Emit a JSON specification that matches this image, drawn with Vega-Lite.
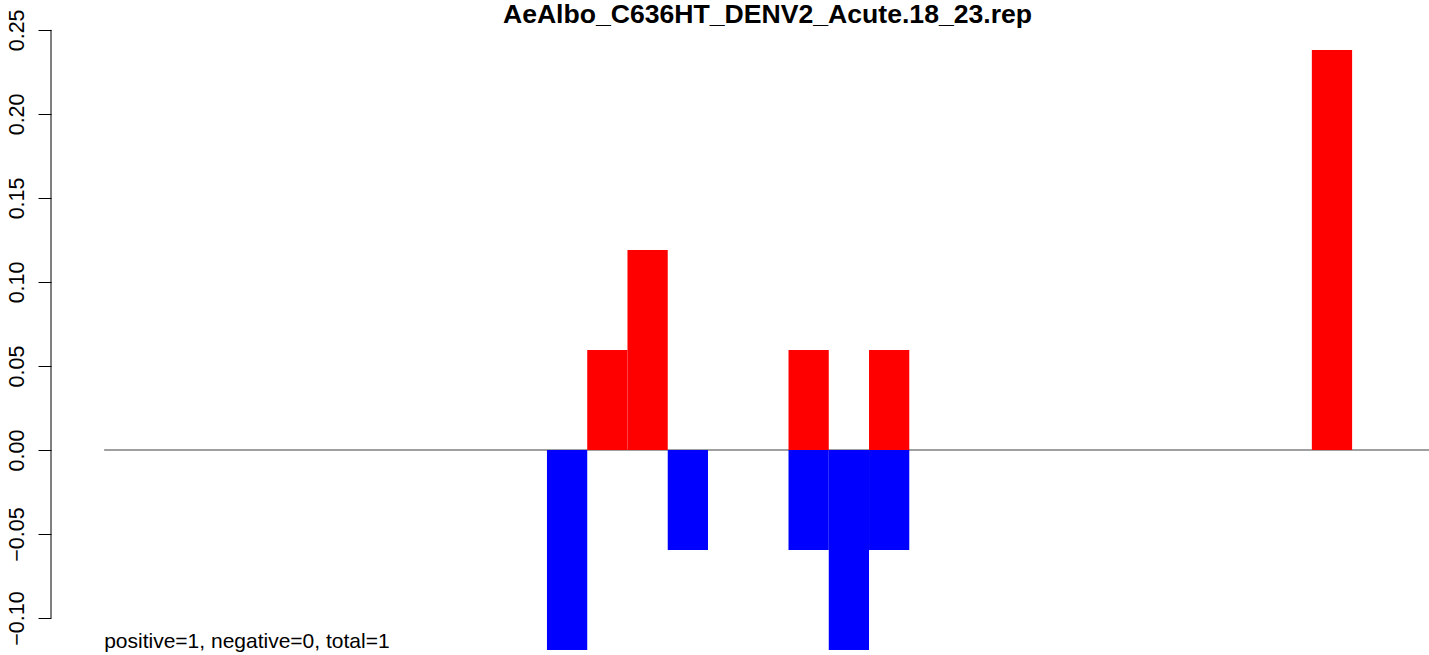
{
  "$schema": "https://vega.github.io/schema/vega-lite/v6.json",
  "width": 1378,
  "height": 629,
  "autosize": {"type": "none"},
  "padding": {"left": 51, "top": 26, "right": 0, "bottom": 0},
  "background": "white",
  "config": {"view": {"stroke": null}},
  "title": {
    "text": "AeAlbo_C636HT_DENV2_Acute.18_23.rep",
    "font": "Liberation Sans",
    "fontSize": 26.6,
    "fontWeight": "bold",
    "color": "black",
    "anchor": "middle",
    "dx": 27.5,
    "offset": -41,
    "baseline": "alphabetic"
  },
  "datasets": {
    "bars": [
      {"start": 11, "end": 12, "value": -0.119, "sign": "negative"},
      {"start": 12, "end": 13, "value": 0.0595, "sign": "positive"},
      {"start": 13, "end": 14, "value": 0.119, "sign": "positive"},
      {"start": 14, "end": 15, "value": -0.0595, "sign": "negative"},
      {"start": 17, "end": 18, "value": 0.0595, "sign": "positive"},
      {"start": 17, "end": 18, "value": -0.0595, "sign": "negative"},
      {"start": 18, "end": 19, "value": -0.119, "sign": "negative"},
      {"start": 19, "end": 20, "value": 0.0595, "sign": "positive"},
      {"start": 19, "end": 20, "value": -0.0595, "sign": "negative"},
      {"start": 30, "end": 31, "value": 0.238, "sign": "positive"}
    ],
    "note": [
      {"label": "positive=1, negative=0, total=1"}
    ]
  },
  "layer": [
    {
      "data": {"name": "note"},
      "mark": {"type": "rule", "color": "#A0A0A0", "strokeWidth": 2},
      "encoding": {
        "x": {"datum": 0, "type": "quantitative", "scale": {"domain": [-1.32, 32.91], "nice": false, "zero": false}, "axis": null},
        "x2": {"datum": 33},
        "y": {"datum": 0, "type": "quantitative", "scale": {"domain": [-0.122, 0.2523], "nice": false, "zero": false}}
      }
    },
    {
      "data": {"name": "bars"},
      "mark": {"type": "rect", "strokeWidth": 0},
      "encoding": {
        "x": {"field": "start", "type": "quantitative", "scale": {"domain": [-1.32, 32.91], "nice": false, "zero": false}, "axis": null},
        "x2": {"field": "end"},
        "y": {
          "field": "value",
          "type": "quantitative",
          "scale": {"domain": [-0.122, 0.2523], "nice": false, "zero": false},
          "axis": {
            "title": null,
            "domain": false,
            "grid": false,
            "values": [-0.1, -0.05, 0, 0.05, 0.1, 0.15, 0.2, 0.25],
            "format": ".2f",
            "tickSize": 13,
            "tickColor": "black",
            "tickWidth": 1,
            "labelAngle": 270,
            "labelAlign": "center",
            "labelBaseline": "bottom",
            "labelPadding": 10,
            "labelFont": "Liberation Sans",
            "labelFontSize": 21.5,
            "labelColor": "black",
            "labelFlush": false,
            "labelOverlap": false
          }
        },
        "y2": {"datum": 0},
        "color": {
          "field": "sign",
          "type": "nominal",
          "scale": {"domain": ["positive", "negative"], "range": ["#FF0000", "#0000FF"]},
          "legend": null
        }
      }
    },
    {
      "data": {"name": "note"},
      "mark": {"type": "rule", "color": "black", "strokeWidth": 1},
      "encoding": {
        "x": {"datum": -1.32, "type": "quantitative"},
        "y": {"datum": -0.1, "type": "quantitative"},
        "y2": {"datum": 0.25}
      }
    },
    {
      "data": {"name": "note"},
      "mark": {"type": "text", "align": "left", "baseline": "alphabetic", "font": "Liberation Sans", "fontSize": 21, "color": "black"},
      "encoding": {
        "x": {"datum": 0, "type": "quantitative"},
        "y": {"datum": -0.118, "type": "quantitative"},
        "text": {"field": "label"}
      }
    }
  ]
}
